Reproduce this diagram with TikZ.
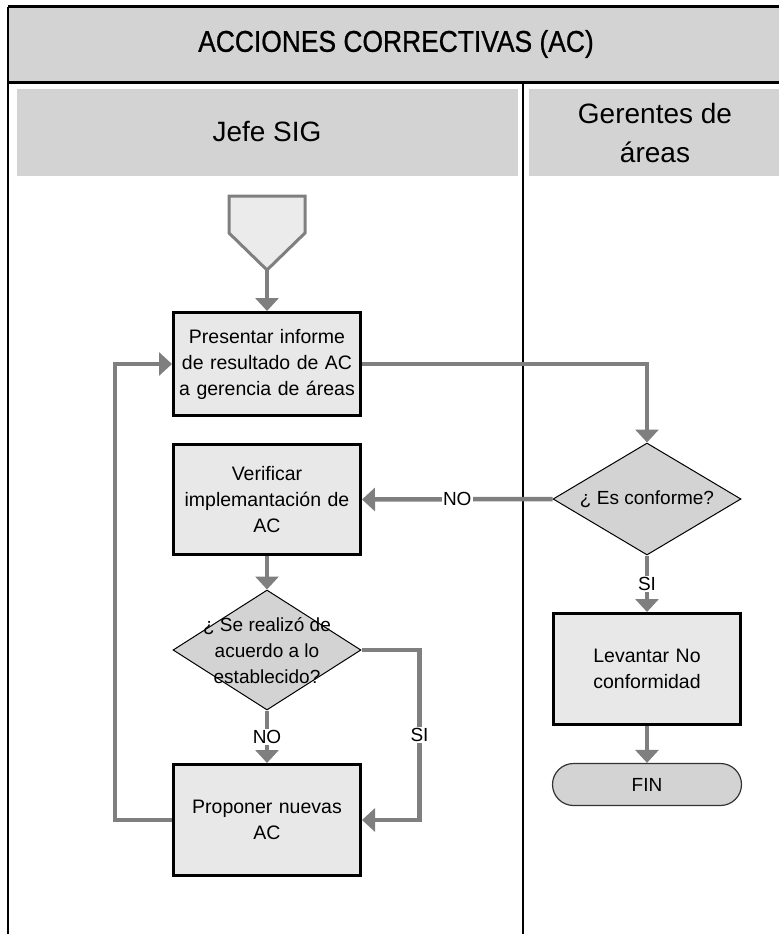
\documentclass[tikz,border=0pt]{standalone}
\usepackage{fontspec}
\setmainfont{Liberation Sans}
\newfontfamily\titlefont[FakeStretch=0.88,FakeBold=0.8]{Liberation Sans}
\usetikzlibrary{arrows.meta,shapes.geometric}

\definecolor{flowgray}{RGB}{127,127,127}
\definecolor{boxfill}{RGB}{232,232,232}
\definecolor{headfill}{RGB}{211,211,211}
\definecolor{startfill}{RGB}{235,235,235}

\begin{document}
\begin{tikzpicture}[x=1pt, y=-1pt,
        proc/.style={rectangle, draw=black, line width=3pt, fill=boxfill, minimum width=187, text width=184, align=center, inner sep=0pt, font=\fontsize{19.5}{26}\selectfont},
        decision/.style={diamond, draw=black, line width=1pt, fill=headfill, inner sep=0pt, minimum width=188},
        dectext/.style={align=center, inner sep=0pt, font=\fontsize{19}{26}\selectfont},
        term/.style={rectangle, rounded corners=21pt, draw=black!80, line width=1.2pt, fill=headfill, minimum width=189, minimum height=42, font=\fontsize{19}{26}\selectfont},
        lane/.style={align=center, inner sep=0pt, font=\fontsize{28}{39}\selectfont},
        flow/.style={draw=flowgray, line width=4.5pt, -{Triangle[width=23pt,length=13pt]}},
        lbl/.style={fill=white, inner sep=1.5pt, font=\fontsize{19}{22}\selectfont}]
    \useasboundingbox (0,0) rectangle (779,934);

    % title band and swimlanes
    \fill[headfill] (8,7) rectangle (779,82);
    \node[font=\titlefont\fontsize{30}{36}\selectfont] (titulo) at (396,44) {ACCIONES CORRECTIVAS (AC)};
    \fill[headfill] (17,89) rectangle (518,176);
    \fill[headfill] (529,89) rectangle (779,176);
    \node[lane] (jefe) at (267,132) {Jefe SIG};
    \node[lane] (gerentes) at (655,133) {Gerentes de\\áreas};
    \draw[line width=3pt] (8,7) -- (779,7);
    \draw[line width=3pt] (8,82) -- (779,82);
    \draw[line width=2.5pt] (8,7) -- (8,934);
    \draw[line width=2pt] (523,82) -- (523,934);

    % start connector (off-page)
    \filldraw[fill=startfill, draw=flowgray, line width=3pt] (229,196) -- (305,196) -- (305,233) -- (267,270) -- (229,233) -- cycle;
    \coordinate (inicio) at (267,270);

    % Jefe SIG
    \node[proc, minimum height=103] (pres) at (267,364) {Presentar informe\\de resultado de AC\\a gerencia de áreas};
    \node[proc, minimum height=110] (verif) at (267,499.5) {Verificar\\implemantación de\\AC};
    \node[decision, minimum height=120] (chk) at (267,650) {};
    \node[dectext] (chk-txt) at (267,651) {¿ Se realizó de\\acuerdo a lo\\establecido?};
    \node[proc, minimum height=111] (prop) at (267,820) {Proponer nuevas\\AC};

    % Gerentes de areas
    \node[decision, minimum height=112] (conf) at (647,499) {};
    \node[dectext] (conf-txt) at (647,499) {¿ Es conforme?};
    \node[proc, minimum height=111] (lev) at (647,669) {Levantar No\\conformidad};
    \node[term] (fin) at (647,784.5) {FIN};

    \draw[flow] (inicio) -- (pres.north);
    \draw[flow] (pres.east) -| (conf.north);
    \draw[flow] (conf.west) -- node[lbl] {NO} (verif.east);
    \draw[flow] (verif.south) -- (chk.north);
    \draw[flow] (chk.south) -- node[lbl] {NO} (prop.north);
    \draw[flow] (chk.east) -- ++(58,0) |- node[lbl, pos=.25] {SI} (prop.east);
    \draw[flow] (prop.west) -- ++(-57,0) |- (pres.west);
    \draw[flow] (conf.south) -- node[lbl] {SI} (lev.north);
    \draw[flow] (lev.south) -- (fin.north);
\end{tikzpicture}
\end{document}
